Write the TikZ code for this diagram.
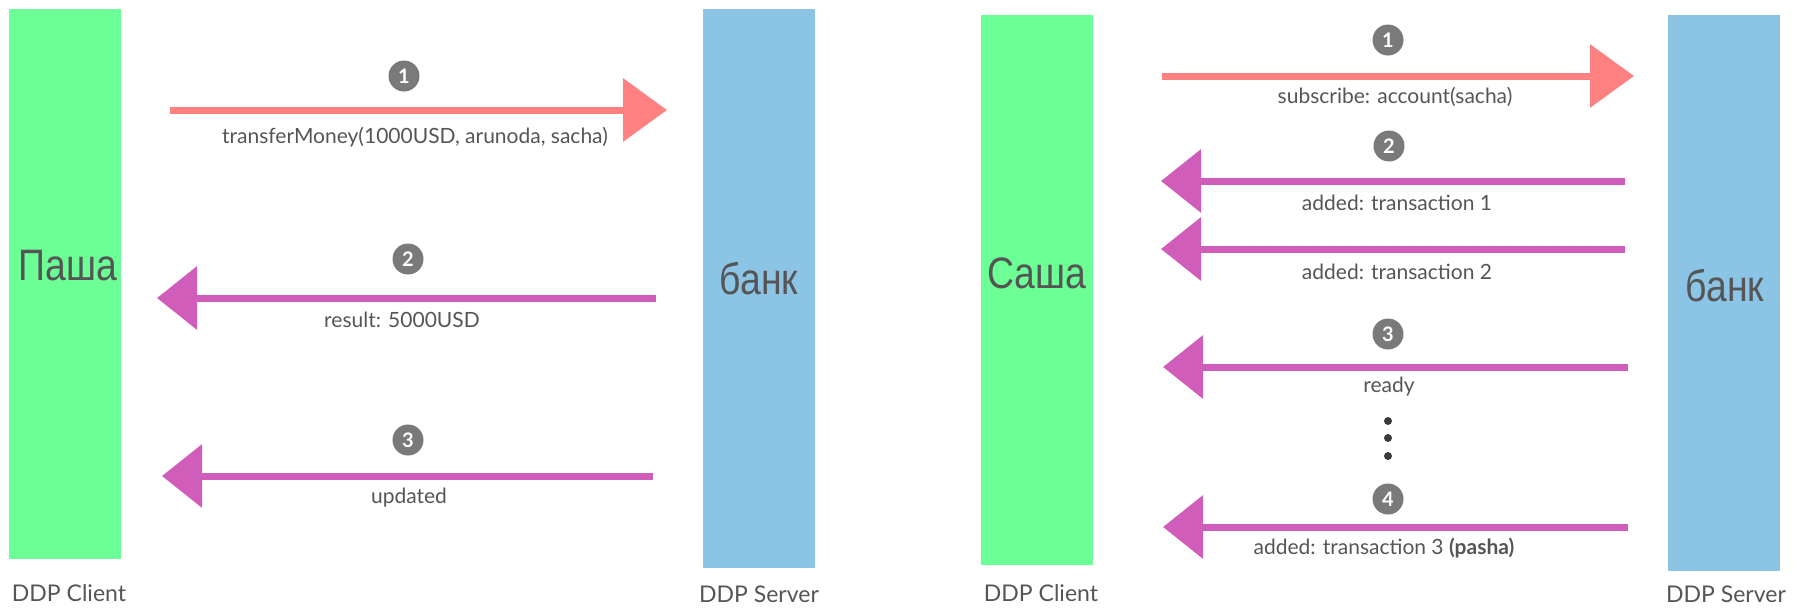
\documentclass[tikz,border=0pt]{standalone}
\usepackage{fontspec}
\setmainfont{Lato}
\newfontfamily\namefont{Liberation Sans}
\usetikzlibrary{arrows.meta}

\definecolor{clientgreen}{HTML}{6BFF95}
\definecolor{serverblue}{HTML}{8CC4E6}
\definecolor{callred}{HTML}{FF8080}
\definecolor{msgpink}{HTML}{D15DBB}
\definecolor{numgrey}{HTML}{7A7A7A}
\definecolor{txtgrey}{HTML}{555555}

\tikzset{
  bar/.style={inner sep=0pt, minimum width=112pt, minimum height=550pt, anchor=north west},
  who/.style={text=txtgrey, font=\namefont\fontsize{44}{44}\selectfont, xscale=0.85},
  role/.style={text=txtgrey, font=\fontsize{23}{23}\selectfont, inner sep=1pt},
  msg/.style={text=txtgrey, font=\fontsize{21}{21}\selectfont},
  num/.style={circle, fill=numgrey, text=white, inner sep=0pt, minimum size=31pt, font=\bfseries\fontsize{20}{20}\selectfont},
  call/.style={callred, line width=7pt, -{Triangle[length=44pt,width=62pt]}},
  reply/.style={msgpink, line width=7pt, -{Triangle[length=40pt,width=62pt]}}
}

\begin{document}
\begin{tikzpicture}[x=1pt,y=-1pt]
\useasboundingbox (0,0) rectangle (1797,608);

% left: method call
\node[bar, fill=clientgreen] (client1) at (9,9) {};
\node[bar, fill=serverblue, minimum height=559pt] (server1) at (703,9) {};
\node[who] (pasha) at (68,266) {Паша};
\node[who] (bank1) at (759,279) {банк};
\node[role] (cl1) at (69,593) {DDP Client};
\node[role] (sv1) at (759,594) {DDP Server};

\coordinate (a1s) at (170,110);
\coordinate (a1e) at (667,110);
\draw[call] (a1s) -- (a1e);
\node[num] (n11) at (404,76) {1};
\node[msg] (m11) at (415,137) {transferMoney(1000USD, arunoda, sacha)};

\coordinate (a2s) at (656,298);
\coordinate (a2e) at (157,298);
\draw[reply] (a2s) -- (a2e);
\node[num] (n12) at (408,259) {2};
\node[msg] (m12) at (402,320) {result: 5000USD};

\coordinate (a3s) at (653,476);
\coordinate (a3e) at (162,476);
\draw[reply] (a3s) -- (a3e);
\node[num] (n13) at (408,440) {3};
\node[msg] (m13) at (409,498) {updated};

% right: subscription
\node[bar, fill=clientgreen] (client2) at (981,15) {};
\node[bar, fill=serverblue, minimum height=556pt] (server2) at (1668,15) {};
\node[who] (sasha) at (1037,273) {Саша};
\node[who] (bank2) at (1725,286) {банк};
\node[role] (cl2) at (1041,593) {DDP Client};
\node[role] (sv2) at (1726,594) {DDP Server};

\coordinate (b1s) at (1162,76);
\coordinate (b1e) at (1634,76);
\draw[call] (b1s) -- (b1e);
\node[num] (n21) at (1388,40) {1};
\node[msg] (m21) at (1395,97) {subscribe: account(sacha)};

\coordinate (b2s) at (1625,181);
\coordinate (b2e) at (1161,181);
\draw[reply] (b2s) -- (b2e);
\node[num] (n22) at (1389,146) {2};
\node[msg] (m22) at (1397,203) {added: transaction 1};

\coordinate (b3s) at (1625,249);
\coordinate (b3e) at (1161,249);
\draw[reply] (b3s) -- (b3e);
\node[msg] (m23) at (1397,272) {added: transaction 2};

\coordinate (b4s) at (1628,367);
\coordinate (b4e) at (1163,367);
\draw[reply] (b4s) -- (b4e);
\node[num] (n23) at (1388,334) {3};
\node[msg] (m24) at (1389,387) {ready};

\fill[txtgrey!70!black] (1388,421) circle (4pt) (1388,438) circle (4pt) (1388,456) circle (4pt);

\coordinate (b5s) at (1628,527);
\coordinate (b5e) at (1163,527);
\draw[reply] (b5s) -- (b5e);
\node[num] (n24) at (1388,499) {4};
\node[msg] (m25) at (1384,548) {added: transaction 3 \textbf{(pasha)}};
\end{tikzpicture}
\end{document}
